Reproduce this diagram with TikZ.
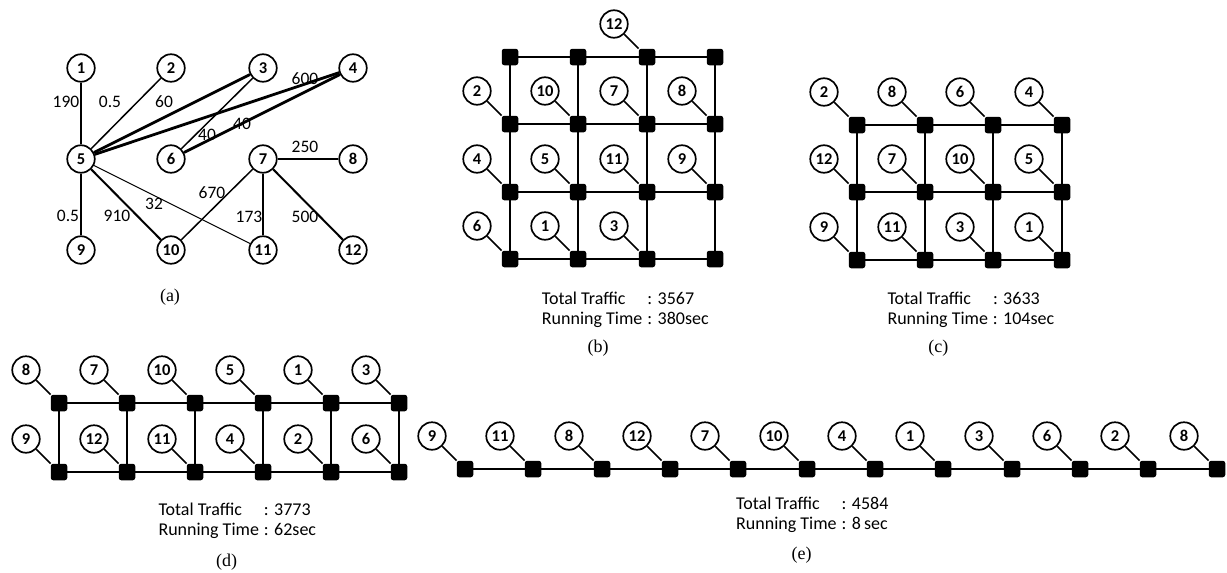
\documentclass[tikz,border=0pt]{standalone}
\usepackage{fontspec}
\setmainfont{Carlito}
\newfontfamily\capfont{Liberation Serif}
\usetikzlibrary{calc}
\tikzset{
  cn/.style={circle, draw, fill=white, line width=1.7pt, minimum size=27.5pt, inner sep=0pt,
    font=\bfseries\fontsize{16.5}{17}\selectfont},
  sq/.style={rectangle, fill=black, rounded corners=2.5pt, minimum size=16.5pt, inner sep=0pt},
  link/.style={line width=1.7pt},
  gridline/.style={line width=1.8pt},
  thickedge/.style={line width=2.8pt},
  midedge/.style={line width=2pt},
  lightedge/.style={line width=1.5pt},
  thinedge/.style={line width=0.9pt},
  elabel/.style={font=\fontsize{17.5}{18}\selectfont, inner sep=0pt},
  captext/.style={font=\capfont\fontsize{18}{18}\selectfont, inner sep=0pt},
  info/.style={font=\fontsize{18}{20}\selectfont, inner sep=0pt, anchor=west, align=left}
}
\begin{document}
\begin{tikzpicture}[x=1pt,y=-1pt]
\useasboundingbox (0,0) rectangle (1227,573);
% ---------------- (a)
\node[cn] (a1) at (81,68) {1};
\node[cn] (a2) at (171,68) {2};
\node[cn] (a3) at (263,68) {3};
\node[cn] (a4) at (353,68) {4};
\node[cn] (a5) at (81,159) {5};
\node[cn] (a6) at (171,159) {6};
\node[cn] (a7) at (263,159) {7};
\node[cn] (a8) at (353,159) {8};
\node[cn] (a9) at (81,250) {9};
\node[cn] (a10) at (171,250) {10};
\node[cn] (a11) at (263,250) {11};
\node[cn] (a12) at (353,250) {12};
\draw[midedge] (a1) -- (a5);
\draw[lightedge] (a5) -- (a2);
\draw[thickedge] (a5) -- (a3);
\draw[lightedge] (a3) -- (a6);
\draw[thickedge] (a5) -- (a4);
\draw[thickedge] (a6) -- (a4);
\draw[thickedge] (a7) -- (a8);
\draw[thickedge] (a5) -- (a9);
\draw[midedge] (a5) -- (a10);
\draw[thinedge] (a5) -- (a11);
\draw[lightedge] (a7) -- (a10);
\draw[thickedge] (a7) -- (a11);
\draw[midedge] (a7) -- (a12);
\node[elabel] (l15) at (66,102) {190};
\node[elabel] (l52) at (110,102) {0.5};
\node[elabel] (l53) at (164,102) {60};
\node[elabel] (l36) at (207,135) {40};
\node[elabel] (l54) at (305,79) {600};
\node[elabel] (l64) at (242,124) {40};
\node[elabel] (l78) at (305,147) {250};
\node[elabel] (l59) at (68,216) {0.5};
\node[elabel] (l510) at (117,216) {910};
\node[elabel] (l511) at (154,204) {32};
\node[elabel] (l710) at (212,193) {670};
\node[elabel] (l711) at (249,217) {173};
\node[elabel] (l712) at (305,217) {500};
\node[captext] (capa) at (170,297) {(a)};
% ---------------- (b)
\foreach \r/\y in {0/57,1/124,2/192,3/259}{\foreach \c/\x in {0/510,1/578,2/647,3/715}{
  \node[sq] (b\r\c) at (\x,\y) {};}}
\foreach \r in {0,...,3}{\draw[gridline] (b\r0.center) -- (b\r3.center);}
\foreach \c in {0,...,3}{\draw[gridline] (b0\c.center) -- (b3\c.center);}
\foreach \r/\c/\t in {0/2/12,1/0/2,1/1/10,1/2/7,1/3/8,2/0/4,2/1/5,2/2/11,2/3/9,3/0/6,3/1/1,3/2/3}{
  \node[cn] (bc\r\c) at ($(b\r\c)+(-33,-33)$) {\t};
  \draw[link] (bc\r\c) -- (b\r\c.north west);}
\node[info] (tb) at (541.7,310) {\begin{tabular}{@{}l@{\hspace{5pt}}l@{}}Total Traffic & : 3567\\ Running Time & : 380sec\end{tabular}};
\node[captext] (capb) at (598,348) {(b)};
% ---------------- (c)
\foreach \r/\y in {0/125,1/192,2/260}{\foreach \c/\x in {0/857,1/925,2/993,3/1062}{
  \node[sq] (c\r\c) at (\x,\y) {};}}
\foreach \r in {0,...,2}{\draw[gridline] (c\r0.center) -- (c\r3.center);}
\foreach \c in {0,...,3}{\draw[gridline] (c0\c.center) -- (c2\c.center);}
\foreach \r/\c/\t in {0/0/2,0/1/8,0/2/6,0/3/4,1/0/12,1/1/7,1/2/10,1/3/5,2/0/9,2/1/11,2/2/3,2/3/1}{
  \node[cn] (cc\r\c) at ($(c\r\c)+(-33,-33)$) {\t};
  \draw[link] (cc\r\c) -- (c\r\c.north west);}
\node[info] (tc) at (887.3,310) {\begin{tabular}{@{}l@{\hspace{5pt}}l@{}}Total Traffic & : 3633\\ Running Time & : 104sec\end{tabular}};
\node[captext] (capc) at (938.3,348) {(c)};
% ---------------- (d)
\foreach \r/\y in {0/403,1/472}{\foreach \c/\x in {0/59,1/127,2/195,3/263,4/331,5/399}{
  \node[sq] (d\r\c) at (\x,\y) {};}}
\foreach \r in {0,1}{\draw[gridline] (d\r0.center) -- (d\r5.center);}
\foreach \c in {0,...,5}{\draw[gridline] (d0\c.center) -- (d1\c.center);}
\foreach \r/\c/\t in {0/0/8,0/1/7,0/2/10,0/3/5,0/4/1,0/5/3,1/0/9,1/1/12,1/2/11,1/3/4,1/4/2,1/5/6}{
  \node[cn] (dc\r\c) at ($(d\r\c)+(-33,-33)$) {\t};
  \draw[link] (dc\r\c) -- (d\r\c.north west);}
\node[info] (td) at (158.3,521.7) {\begin{tabular}{@{}l@{\hspace{5pt}}l@{}}Total Traffic & : 3773\\ Running Time & : 62sec\end{tabular}};
\node[captext] (capd) at (226.7,561.7) {(d)};
% ---------------- (e)
\foreach \c/\x in {0/465,1/533,2/602,3/670,4/738,5/807,6/875,7/943,8/1012,9/1080,10/1148,11/1217}{
  \node[sq] (e\c) at (\x,469) {};}
\draw[gridline] (e0.center) -- (e11.center);
\foreach \c/\t in {0/9,1/11,2/8,3/12,4/7,5/10,6/4,7/1,8/3,9/6,10/2,11/8}{
  \node[cn] (ec\c) at ($(e\c)+(-33,-33)$) {\t};
  \draw[link] (ec\c) -- (e\c.north west);}
\node[info] (te) at (736,515) {\begin{tabular}{@{}l@{\hspace{5pt}}l@{}}Total Traffic & : 4584\\ Running Time & : 8\,sec\end{tabular}};
\node[captext] (cape) at (801.7,555) {(e)};
\end{tikzpicture}
\end{document}
